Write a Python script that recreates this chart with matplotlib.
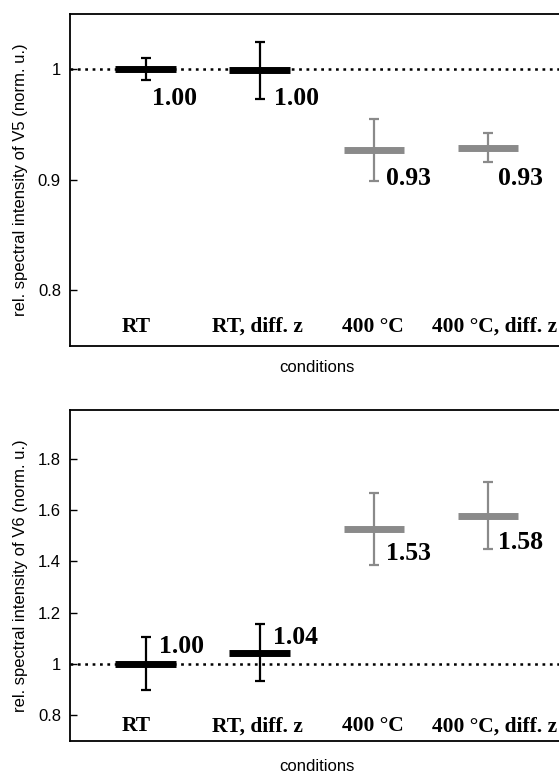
import numpy as np
import matplotlib
matplotlib.use("Agg")
import matplotlib.pyplot as plt
from matplotlib import transforms

# data
conditions = ["RT", "RT, diff. z", "400 °C", "400 °C, diff. z"]
v5_values = [1.00, 0.999, 0.927, 0.929]
v5_errors = [0.010, 0.026, 0.028, 0.013]
v5_labels = ["1.00", "1.00", "0.93", "0.93"]
v6_values = [1.00, 1.043, 1.526, 1.578]
v6_errors = [0.103, 0.111, 0.139, 0.130]
v6_labels = ["1.00", "1.04", "1.53", "1.58"]

black = "#000000"
gray = "#8a8a8a"
colors = [black, black, gray, gray]

serif = ["Liberation Serif", "DejaVu Serif"]
plt.rcParams["font.family"] = ["Liberation Sans", "DejaVu Sans"]

fig = plt.figure(figsize=(5.59, 7.74), dpi=100)
ax1 = fig.add_axes([0.1252, 0.5534, 0.884, 0.4285])
ax2 = fig.add_axes([0.1252, 0.0430, 0.884, 0.4273])

x = np.arange(1, len(conditions) + 1)
halfw = 0.265


def draw_panel(ax, values, errors, labels, ylim, yticks, yticklabels, ylabel,
               offsets, cat_y, xlab_y):
    ax.set_xlim(0.336, 4.67)
    ax.set_ylim(*ylim)
    ax.axhline(1.0, color="black", lw=1.8, linestyle=(0, (1.1, 1.85)), zorder=1)
    for i in range(len(x)):
        ax.hlines(values[i], x[i] - halfw, x[i] + halfw, color=colors[i],
                  lw=5, zorder=3)
        ax.errorbar(x[i], values[i], yerr=errors[i], fmt="none",
                    ecolor=colors[i], elinewidth=1.6, capsize=3.6,
                    capthick=1.6, zorder=4)
        ax.annotate(labels[i], (x[i], values[i]), xytext=offsets[i],
                    textcoords="offset pixels", ha="left", va="baseline",
                    fontsize=18.5, fontweight="bold", family=serif, zorder=5)
    trans = transforms.blended_transform_factory(ax.transData, ax.transAxes)
    cat_x = [0.92, 1.98, 2.99, 4.06]
    for cx, name in zip(cat_x, conditions):
        ax.text(cx, cat_y, name, transform=trans, ha="center", va="baseline",
                fontsize=15.5, fontweight="bold", family=serif)
    ax.set_xticks([])
    ax.set_yticks(yticks)
    ax.set_yticklabels(yticklabels)
    ax.tick_params(axis="y", direction="in", length=5, width=1, pad=6.5,
                   labelsize=12)
    for s in ax.spines.values():
        s.set_linewidth(1.3)
    ax.set_ylabel(ylabel, fontsize=12)
    ax.yaxis.set_label_coords(-0.085, 0.5)
    ax.set_xlabel("conditions", fontsize=12)
    ax.xaxis.set_label_coords(0.5, xlab_y)


draw_panel(ax1, v5_values, v5_errors, v5_labels, (0.75, 1.05),
           [0.8, 0.9, 1.0], ["0.8", "0.9", "1"],
           "rel. spectral intensity of V5 (norm. u.)",
           [(6, -36), (14, -35), (12, -35), (10, -37)], 0.042, -0.044)
draw_panel(ax2, v6_values, v6_errors, v6_labels, (0.7, 1.99),
           [0.8, 1.0, 1.2, 1.4, 1.6, 1.8], ["0.8", "1", "1.2", "1.4", "1.6", "1.8"],
           "rel. spectral intensity of V6 (norm. u.)",
           [(13, 11), (13, 9), (12, -31), (10, -33)], 0.029, -0.056)

fig.savefig("out.png", dpi=100)
